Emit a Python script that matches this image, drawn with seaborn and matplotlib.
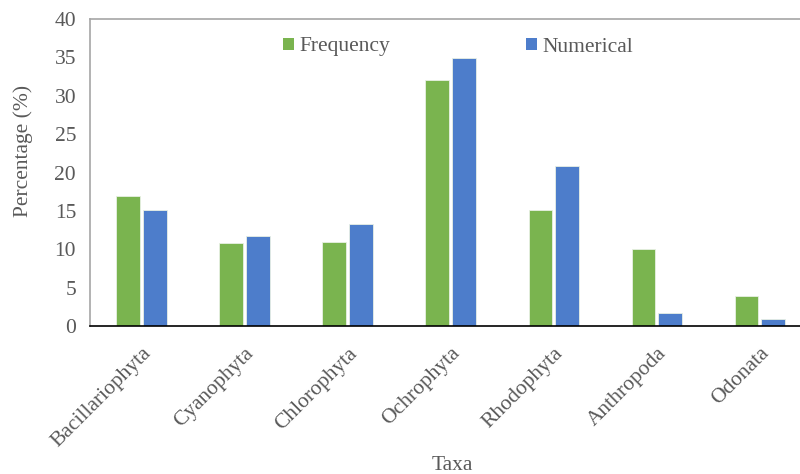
import matplotlib
matplotlib.use("Agg")
import matplotlib.pyplot as plt
import seaborn as sns
import pandas as pd
from matplotlib.patches import Patch
from matplotlib.ticker import FixedLocator

categories = ["Bacillariophyta", "Cyanophyta", "Chlorophyta", "Ochrophyta",
              "Rhodophyta", "Anthropoda", "Odonata"]
frequency = [17.0, 10.8, 10.9, 32.0, 15.1, 10.0, 3.9]
numerical = [15.1, 11.7, 13.3, 34.9, 20.8, 1.65, 0.87]
series_names = ["Frequency", "Numerical"]
colors = ["#7ab44f", "#4d7dcb"]

df = pd.DataFrame({
    "Taxa": categories * 2,
    "Value": frequency + numerical,
    "Series": [series_names[0]] * len(categories) + [series_names[1]] * len(categories),
})

sns.set_style("white")
plt.rcParams["font.family"] = ["Liberation Serif", "DejaVu Serif"]
text_color = "#595959"
fs = 15.5

fig = plt.figure(figsize=(8, 4.74), dpi=100)
ax = fig.add_axes([90/800, 1 - 326/474, 710/800, 307/474])

sns.barplot(data=df, x="Taxa", y="Value", hue="Series", palette=colors,
            saturation=1, width=0.52, gap=0.12, edgecolor="#e8f0e4", linewidth=0.6,
            ax=ax, legend=False)

ax.set_ylim(0, 40)
ax.set_xlim(-0.5, 6.39)
ax.set_yticks(range(0, 41, 5))
ax.tick_params(axis="y", length=0, labelsize=fs, labelcolor=text_color, pad=10)
ax.tick_params(axis="x", which="major", length=0, labelsize=fs, labelcolor=text_color, pad=13)
ax.xaxis.set_minor_locator(FixedLocator([i + 0.5 for i in range(-1, 7)]))
ax.tick_params(axis="x", which="minor", length=5, width=1, color="#000000", direction="out")
for lbl in ax.get_xticklabels():
    lbl.set_rotation(45)
    lbl.set_ha("right")
    lbl.set_rotation_mode("anchor")

ax.set_ylabel("Percentage (%)", fontsize=fs, color=text_color)
ax.yaxis.set_label_coords(33/800, 1 - 151/474, transform=fig.transFigure)
ax.set_xlabel("Taxa", fontsize=fs, color=text_color, va="center")
ax.xaxis.set_label_coords(452/800, 1 - 465/474, transform=fig.transFigure)

for side in ["left", "top"]:
    ax.spines[side].set_color("#a6a6a6")
    ax.spines[side].set_linewidth(1.2)
ax.spines["bottom"].set_color("#000000")
ax.spines["bottom"].set_linewidth(1.2)
ax.spines["right"].set_visible(False)

handles = [Patch(facecolor=c, edgecolor="none") for c in colors]
leg = ax.legend(handles, series_names, ncol=2, loc="center",
                bbox_to_anchor=(458/800, 1 - 47/474), bbox_transform=fig.transFigure,
                frameon=False, fontsize=fs, handlelength=0.5, handleheight=0.5,
                handletextpad=0.25, columnspacing=6.3)
for t in leg.get_texts():
    t.set_color(text_color)

fig.savefig("out.png", dpi=100)
